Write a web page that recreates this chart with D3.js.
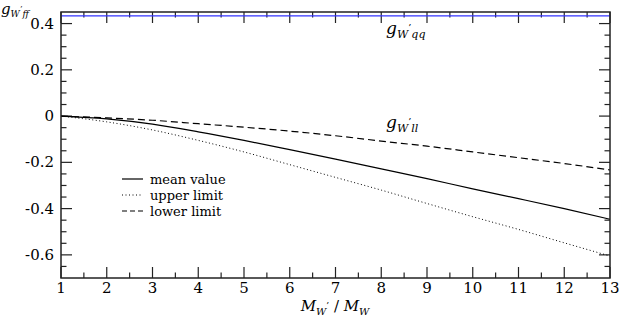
<!DOCTYPE html>
<html><head><meta charset="utf-8">
<script src="https://cdn.jsdelivr.net/npm/d3@7"></script>
<style>body{margin:0;background:#fff}svg{display:block}</style>
</head><body>
<svg id="c" width="619" height="318"></svg>
<script>
const xs = [1,2,3,4,5,6,7,8,9,10,11,12,13];
const meanValue = [0,-0.012,-0.035,-0.068,-0.105,-0.145,-0.186,-0.228,-0.27,-0.315,-0.357,-0.40,-0.446];
const upperLimit = [0,-0.025,-0.06,-0.105,-0.155,-0.21,-0.265,-0.32,-0.378,-0.435,-0.49,-0.548,-0.605];
const lowerLimit = [0,-0.008,-0.018,-0.033,-0.048,-0.065,-0.085,-0.108,-0.13,-0.155,-0.18,-0.205,-0.233];
const gqq = 0.433;
const xTicks = [1,2,3,4,5,6,7,8,9,10,11,12,13];
const yTicks = [-0.6,-0.4,-0.2,0,0.2,0.4];
const yTickLabels = ["-0.6","-0.4","-0.2","0","0.2","0.4"];
const legendLabels = ["mean value","upper limit","lower limit"];

const FF = "'DejaVu Serif'";
const svg = d3.select("#c");
const L=61,R=610,T=12,B=278;
const x = d3.scaleLinear().domain([1,13]).range([L,R]);
const y = d3.scaleLinear().domain([-0.7,0.45]).range([B,T]);
const ink="#222";

const xMinor = d3.range(1.5,13,1);
const yMinor = d3.range(-0.65,0.45,0.05).filter(v=>!yTicks.some(t=>Math.abs(t-v)<1e-6));
const g = svg.append("g").attr("stroke",ink).attr("stroke-width",1.2);
xTicks.forEach(v=>{
  g.append("line").attr("x1",x(v)).attr("x2",x(v)).attr("y1",B).attr("y2",B-11);
  g.append("line").attr("x1",x(v)).attr("x2",x(v)).attr("y1",T).attr("y2",T+11);
});
xMinor.forEach(v=>{
  g.append("line").attr("x1",x(v)).attr("x2",x(v)).attr("y1",B).attr("y2",B-5.5);
  g.append("line").attr("x1",x(v)).attr("x2",x(v)).attr("y1",T).attr("y2",T+5.5);
});
yTicks.forEach(v=>{
  g.append("line").attr("x1",L).attr("x2",L+11).attr("y1",y(v)).attr("y2",y(v));
  g.append("line").attr("x1",R).attr("x2",R-11).attr("y1",y(v)).attr("y2",y(v));
});
yMinor.forEach(v=>{
  g.append("line").attr("x1",L).attr("x2",L+5.5).attr("y1",y(v)).attr("y2",y(v));
  g.append("line").attr("x1",R).attr("x2",R-5.5).attr("y1",y(v)).attr("y2",y(v));
});

xTicks.forEach(v=>{
  svg.append("text").attr("x",x(v)).attr("y",293).attr("text-anchor","middle").style("font-family",FF).attr("font-size",15).attr("fill","#000").text(v);
});
yTicks.forEach((v,i)=>{
  svg.append("text").attr("x",54).attr("y",y(v)+5).attr("text-anchor","end").style("font-family",FF).attr("font-size",15).attr("fill","#000").text(yTickLabels[i]);
});

svg.append("line").attr("x1",L).attr("x2",R).attr("y1",y(gqq)).attr("y2",y(gqq)).attr("stroke","#3333ff").attr("stroke-width",1.3);

const line = d3.line().x((d,i)=>x(xs[i])).y(d=>y(d)).curve(d3.curveMonotoneX);
svg.append("path").attr("d",line(meanValue)).attr("fill","none").attr("stroke","#000").attr("stroke-width",1.2);
svg.append("path").attr("d",line(upperLimit)).attr("fill","none").attr("stroke","#000").attr("stroke-width",1).attr("stroke-dasharray","1,2.5");
svg.append("path").attr("d",line(lowerLimit)).attr("fill","none").attr("stroke","#000").attr("stroke-width",1.2).attr("stroke-dasharray","7,4");

svg.append("rect").attr("x",L).attr("y",T).attr("width",R-L).attr("height",B-T).attr("fill","none").attr("stroke",ink).attr("stroke-width",1.5);

const dashes=[null,"1,2.5","5,3"];
legendLabels.forEach((t,i)=>{
  const yy=179+i*16;
  const ln=svg.append("line").attr("x1",122).attr("x2",143).attr("y1",yy).attr("y2",yy).attr("stroke","#000").attr("stroke-width",i==1?1:1.2);
  if(dashes[i]) ln.attr("stroke-dasharray",dashes[i]);
  svg.append("text").attr("x",150).attr("y",yy+4.5).style("font-family",FF).attr("font-size",13).attr("fill","#000").text(t);
});

function subLabel(xp,yp,base,sub,size,ss){
  const t=svg.append("text").attr("x",xp).attr("y",yp).style("font-family",FF).attr("font-size",size).attr("font-style","italic").attr("fill","#000");
  t.append("tspan").text(base);
  t.append("tspan").attr("dy",size*0.22).attr("font-size",ss).text("W");
  t.append("tspan").attr("dy",-size*0.4).attr("font-size",ss*0.9).attr("font-style","normal").text("’");
  t.append("tspan").attr("dy",size*0.4).attr("font-size",ss).text(sub);
  return t;
}
subLabel(1,14,"g","ff",15,9);
subLabel(386,34,"g","qq",17,11);
subLabel(386,128,"g","ll",17,11);

const xl=svg.append("text").attr("x",335).attr("y",311).attr("text-anchor","middle").style("font-family",FF).attr("font-size",15).attr("font-style","italic").attr("fill","#000");
xl.append("tspan").text("M");
xl.append("tspan").attr("dy",4).attr("font-size",10).text("W");
xl.append("tspan").attr("dy",-6).attr("font-size",9).attr("font-style","normal").text("’");
xl.append("tspan").attr("dy",2).attr("font-size",15).attr("font-style","normal").text(" / ");
xl.append("tspan").text("M");
xl.append("tspan").attr("dy",4).attr("font-size",10).text("W");
</script>
</body></html>
